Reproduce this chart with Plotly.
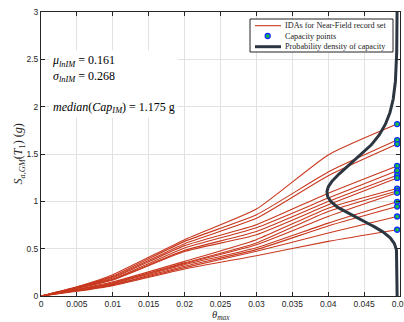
import numpy as np
import plotly.graph_objects as go

# ---- data ----
theta_pts = [0.0, 0.005, 0.01, 0.02, 0.03, 0.04]
theta_cap = 0.0496
capacity_sa = [1.816, 1.647, 1.605, 1.374, 1.324, 1.276, 1.247,
               1.135, 1.11, 1.09, 0.995, 0.945, 0.84, 0.70]
sa_at_0005 = [0.097, 0.094, 0.090, 0.088, 0.085, 0.082, 0.080,
              0.070, 0.067, 0.065, 0.062, 0.058, 0.055, 0.050]
sa_at_001 = [0.225, 0.21, 0.20, 0.19, 0.18, 0.175, 0.17,
             0.15, 0.14, 0.135, 0.13, 0.12, 0.115, 0.11]
sa_at_002 = [0.595, 0.577, 0.553, 0.532, 0.507, 0.482, 0.47,
             0.366, 0.35, 0.342, 0.33, 0.314, 0.30, 0.286]
sa_at_003 = [0.918, 0.858, 0.82, 0.753, 0.721, 0.682, 0.647,
             0.595, 0.56, 0.542, 0.51, 0.49, 0.472, 0.426]
sa_at_004 = [1.49, 1.31, 1.27, 1.086, 1.034, 0.998, 0.963,
             0.928, 0.893, 0.84, 0.77, 0.74, 0.665, 0.577]
mu_ln = 0.161
sigma_ln = 0.268
median_cap = 1.175
legend_labels = ["IDAs for Near-Field record set", "Capacity points", "Probability density of capacity"]
x_ticks = [0, 0.005, 0.01, 0.015, 0.02, 0.025, 0.03, 0.035, 0.04, 0.045, 0.05]
x_tick_text = ["0", "0.005", "0.01", "0.015", "0.02", "0.025", "0.03", "0.035", "0.04", "0.045", "0.05"]
y_ticks = [0, 0.5, 1, 1.5, 2, 2.5, 3]
y_tick_text = ["0", "0.5", "1", "1.5", "2", "2.5", "3"]

RED = "#c8381e"
DARK = "#2b3640"
GREEN = "#18c040"
BLUE = "#1030ff"
SERIF = "Liberation Serif, DejaVu Serif, serif"
SANS = "Liberation Sans, Arial, sans-serif"

W, H = 404, 322
ML, MR, MT, MB = 41, 4, 12, 26
PW, PH = W - ML - MR, H - MT - MB


def px(x):
    return (x - ML) / PW


def py(y):
    return (H - MB - y) / PH


fig = go.Figure()

for i in range(len(capacity_sa)):
    ys = [0.0, sa_at_0005[i], sa_at_001[i], sa_at_002[i], sa_at_003[i], sa_at_004[i], capacity_sa[i]]
    xs = theta_pts + [theta_cap]
    fig.add_trace(go.Scatter(
        x=xs, y=ys, mode="lines",
        line=dict(color=RED, width=1.1, shape="spline", smoothing=0.5),
        name=legend_labels[0], showlegend=False, hoverinfo="skip"))

fig.add_trace(go.Scatter(
    x=[theta_cap] * len(capacity_sa), y=capacity_sa, mode="markers",
    marker=dict(color=GREEN, size=5, line=dict(color=BLUE, width=1.3)),
    name=legend_labels[1], showlegend=False, cliponaxis=False))

# probability density of capacity (lognormal with the stated parameters)
sa_grid = np.linspace(0.001, 3.0, 400)
pdf = np.exp(-(np.log(sa_grid) - mu_ln) ** 2 / (2 * sigma_ln ** 2)) / (sa_grid * sigma_ln * np.sqrt(2 * np.pi))
scale = 0.00744
fig.add_trace(go.Scatter(
    x=theta_cap - scale * pdf, y=sa_grid, mode="lines",
    line=dict(color=DARK, width=3),
    name=legend_labels[2], showlegend=False))

# statistics text box
fig.add_annotation(
    x=0.0011, y=2.6, xref="x", yref="y", xanchor="left", yanchor="top",
    text=("<i>μ</i><sub><i>lnIM</i></sub> = 0.161<br>"
          "<i>σ</i><sub><i>lnIM</i></sub> = 0.268<br><br>"
          "<i>median</i>(<i>Cap</i><sub><i>IM</i></sub>) = 1.175 g"),
    showarrow=False, align="left", bgcolor="white",
    font=dict(family=SERIF, size=12, color="black"), borderpad=2)

# legend drawn by hand (MATLAB-style compact box)
fig.add_shape(type="rect", xref="paper", yref="paper",
              x0=px(250), x1=px(393), y0=py(52), y1=py(19),
              fillcolor="white", line=dict(color="#222", width=1), layer="above")
rows = [25.7, 36.0, 46.7]
fig.add_shape(type="line", xref="paper", yref="paper",
              x0=px(255), x1=px(281), y0=py(rows[0]), y1=py(rows[0]),
              line=dict(color=RED, width=1.1), layer="above")
fig.add_shape(type="circle", xref="paper", yref="paper",
              x0=px(265.2), x1=px(270.2), y0=py(rows[1] + 2.5), y1=py(rows[1] - 2.5),
              fillcolor=GREEN, line=dict(color=BLUE, width=1.3), layer="above")
fig.add_shape(type="line", xref="paper", yref="paper",
              x0=px(255), x1=px(281), y0=py(rows[2]), y1=py(rows[2]),
              line=dict(color=DARK, width=3), layer="above")
for r, lab in zip(rows, legend_labels):
    fig.add_annotation(x=px(282.5), y=py(r), xref="paper", yref="paper",
                       xanchor="left", yanchor="middle", text=lab, showarrow=False,
                       font=dict(family=SERIF, size=8.2, color="#222"))

# axis titles as annotations
fig.add_annotation(
    x=0.5, y=-0.044, xref="paper", yref="paper", xanchor="center", yanchor="top",
    text="<i>θ</i><sub><i>max</i></sub>", showarrow=False,
    font=dict(family=SERIF, size=10.5, color="#262626"), borderpad=0)
fig.add_annotation(
    x=-0.06, y=0.5, xref="paper", yref="paper", xanchor="center", yanchor="middle",
    text="<i>S</i><sub><i>a,GM</i></sub>(<i>T</i><sub>1</sub>) (<i>g</i>)", showarrow=False,
    textangle=-90, font=dict(family=SERIF, size=12, color="#262626"))

fig.update_layout(
    width=W, height=H,
    margin=dict(l=ML, r=MR, t=MT, b=MB, autoexpand=False),
    paper_bgcolor="white", plot_bgcolor="white",
    showlegend=False,
)

fig.update_xaxes(
    range=[0, 0.05], tickvals=x_ticks, ticktext=x_tick_text, automargin=False,
    ticks="inside", ticklen=4, tickcolor="#262626", ticklabeloverflow="allow",
    showline=True, linecolor="#262626", linewidth=1, mirror="allticks",
    showgrid=True, gridcolor="#e2e2e2", gridwidth=1, zeroline=False,
    tickfont=dict(family=SANS, size=8.5, color="#262626"))
fig.update_yaxes(
    range=[0, 3], tickvals=y_ticks, ticktext=y_tick_text, automargin=False,
    ticks="inside", ticklen=4, tickcolor="#262626", ticklabeloverflow="allow",
    showline=True, linecolor="#262626", linewidth=1, mirror="allticks",
    showgrid=True, gridcolor="#e2e2e2", gridwidth=1, zeroline=False,
    tickfont=dict(family=SANS, size=8.5, color="#262626"))

fig.write_html("out.html", config={"displayModeBar": False},
               post_script="document.body.style.margin='0';document.body.style.overflow='hidden';")
